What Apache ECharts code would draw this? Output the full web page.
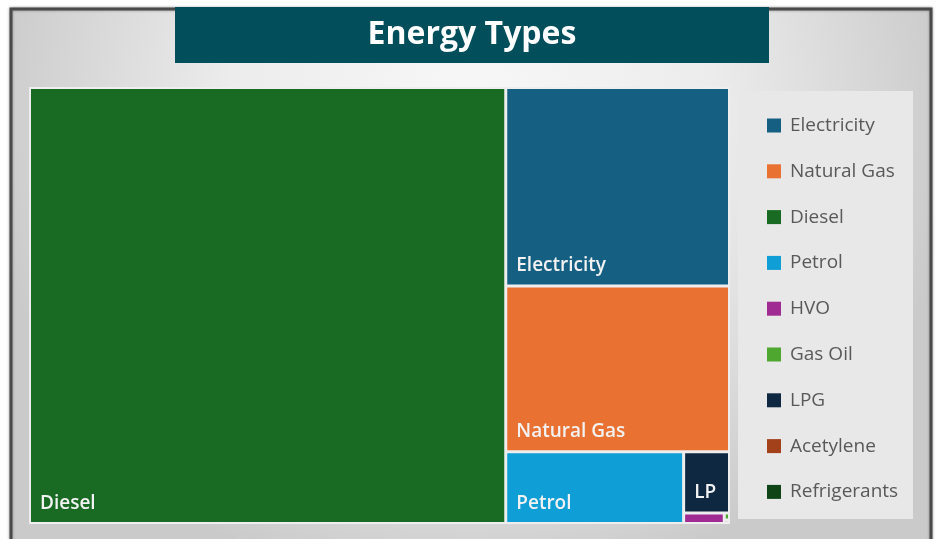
<!DOCTYPE html>
<html>
<head>
<meta charset="utf-8">
<script src="https://cdn.jsdelivr.net/npm/echarts@6/dist/echarts.min.js"></script>
<style>
html,body{margin:0;padding:0;background:#fff;}
#c{width:939px;height:539px;}
</style>
</head>
<body>
<div id="c"></div>
<script>
const title = 'Energy Types';
const categories = ['Electricity','Natural Gas','Diesel','Petrol','HVO','Gas Oil','LPG','Acetylene','Refrigerants'];
const values = [14.55, 12.14, 68.0, 4.18, 0.14, 0.012, 0.92, 0.004, 0.002];
const colors = ['#156082','#e97132','#196b24','#0f9ed5','#a02b93','#4ea72e','#0e2841','#a3411b','#0f4417'];

const chart = echarts.init(document.getElementById('c'), null, {renderer:'canvas'});

const treeData = categories.map((n,i)=>({
  name:n, value:values[i],
  itemStyle:{color:colors[i]}
}));

const option = {
  backgroundColor:'#ffffff',
  animation:false,
  graphic:[
    {type:'rect', z:-10, shape:{x:11,y:9,width:920,height:540},
     style:{
       fill:{type:'radial', x:0.5, y:0.2, r:0.9,
         colorStops:[{offset:0,color:'#f8f8f8'},{offset:0.5,color:'#ececec'},{offset:1,color:'#cacaca'}]},
       stroke:'#4a4a4a', lineWidth:3,
       shadowBlur:3, shadowColor:'rgba(0,0,0,0.35)'
     }},
    {type:'rect', z:-5, shape:{x:738,y:91,width:175,height:428},
     style:{fill:'#e8e8e8'}},
    {type:'rect', z:10, shape:{x:175,y:7,width:594,height:56},
     style:{fill:'#024e5a'}},
    {type:'text', z:11, x:472, y:35,
     style:{text:title, fill:'#ffffff', font:'bold 32px "Open Sans", sans-serif', align:'center', verticalAlign:'middle'}}
  ],
  legend:{
    orient:'vertical',
    left:762, top:111,
    itemWidth:14, itemHeight:14, itemGap:26.8,
    icon:'rect',
    data:categories,
    textStyle:{fontSize:19, color:'#595959', fontFamily:'"Open Sans", sans-serif', padding:[0,0,0,4]}
  },
  series:[
    {
      type:'pie', name:'legend', radius:[0,0], center:[-100,-100], silent:true,
      label:{show:false}, labelLine:{show:false},
      data:categories.map((n,i)=>({name:n, value:1, itemStyle:{color:colors[i]}}))
    },
    {
      type:'treemap',
      left:29, top:87, width:701, height:437,
      roam:false, nodeClick:false,
      breadcrumb:{show:false},
      visibleMin:0,
      itemStyle:{borderColor:'#eeeeee', borderWidth:1, gapWidth:1},
      label:{
        show:true, position:'insideBottomLeft',
        color:'#f2f2f2', fontSize:19, fontWeight:600,
        fontFamily:'"Open Sans", sans-serif',
        padding:[0,0,9,9]
      },
      data:treeData
    }
  ]
};
chart.setOption(option);
</script>
</body>
</html>
